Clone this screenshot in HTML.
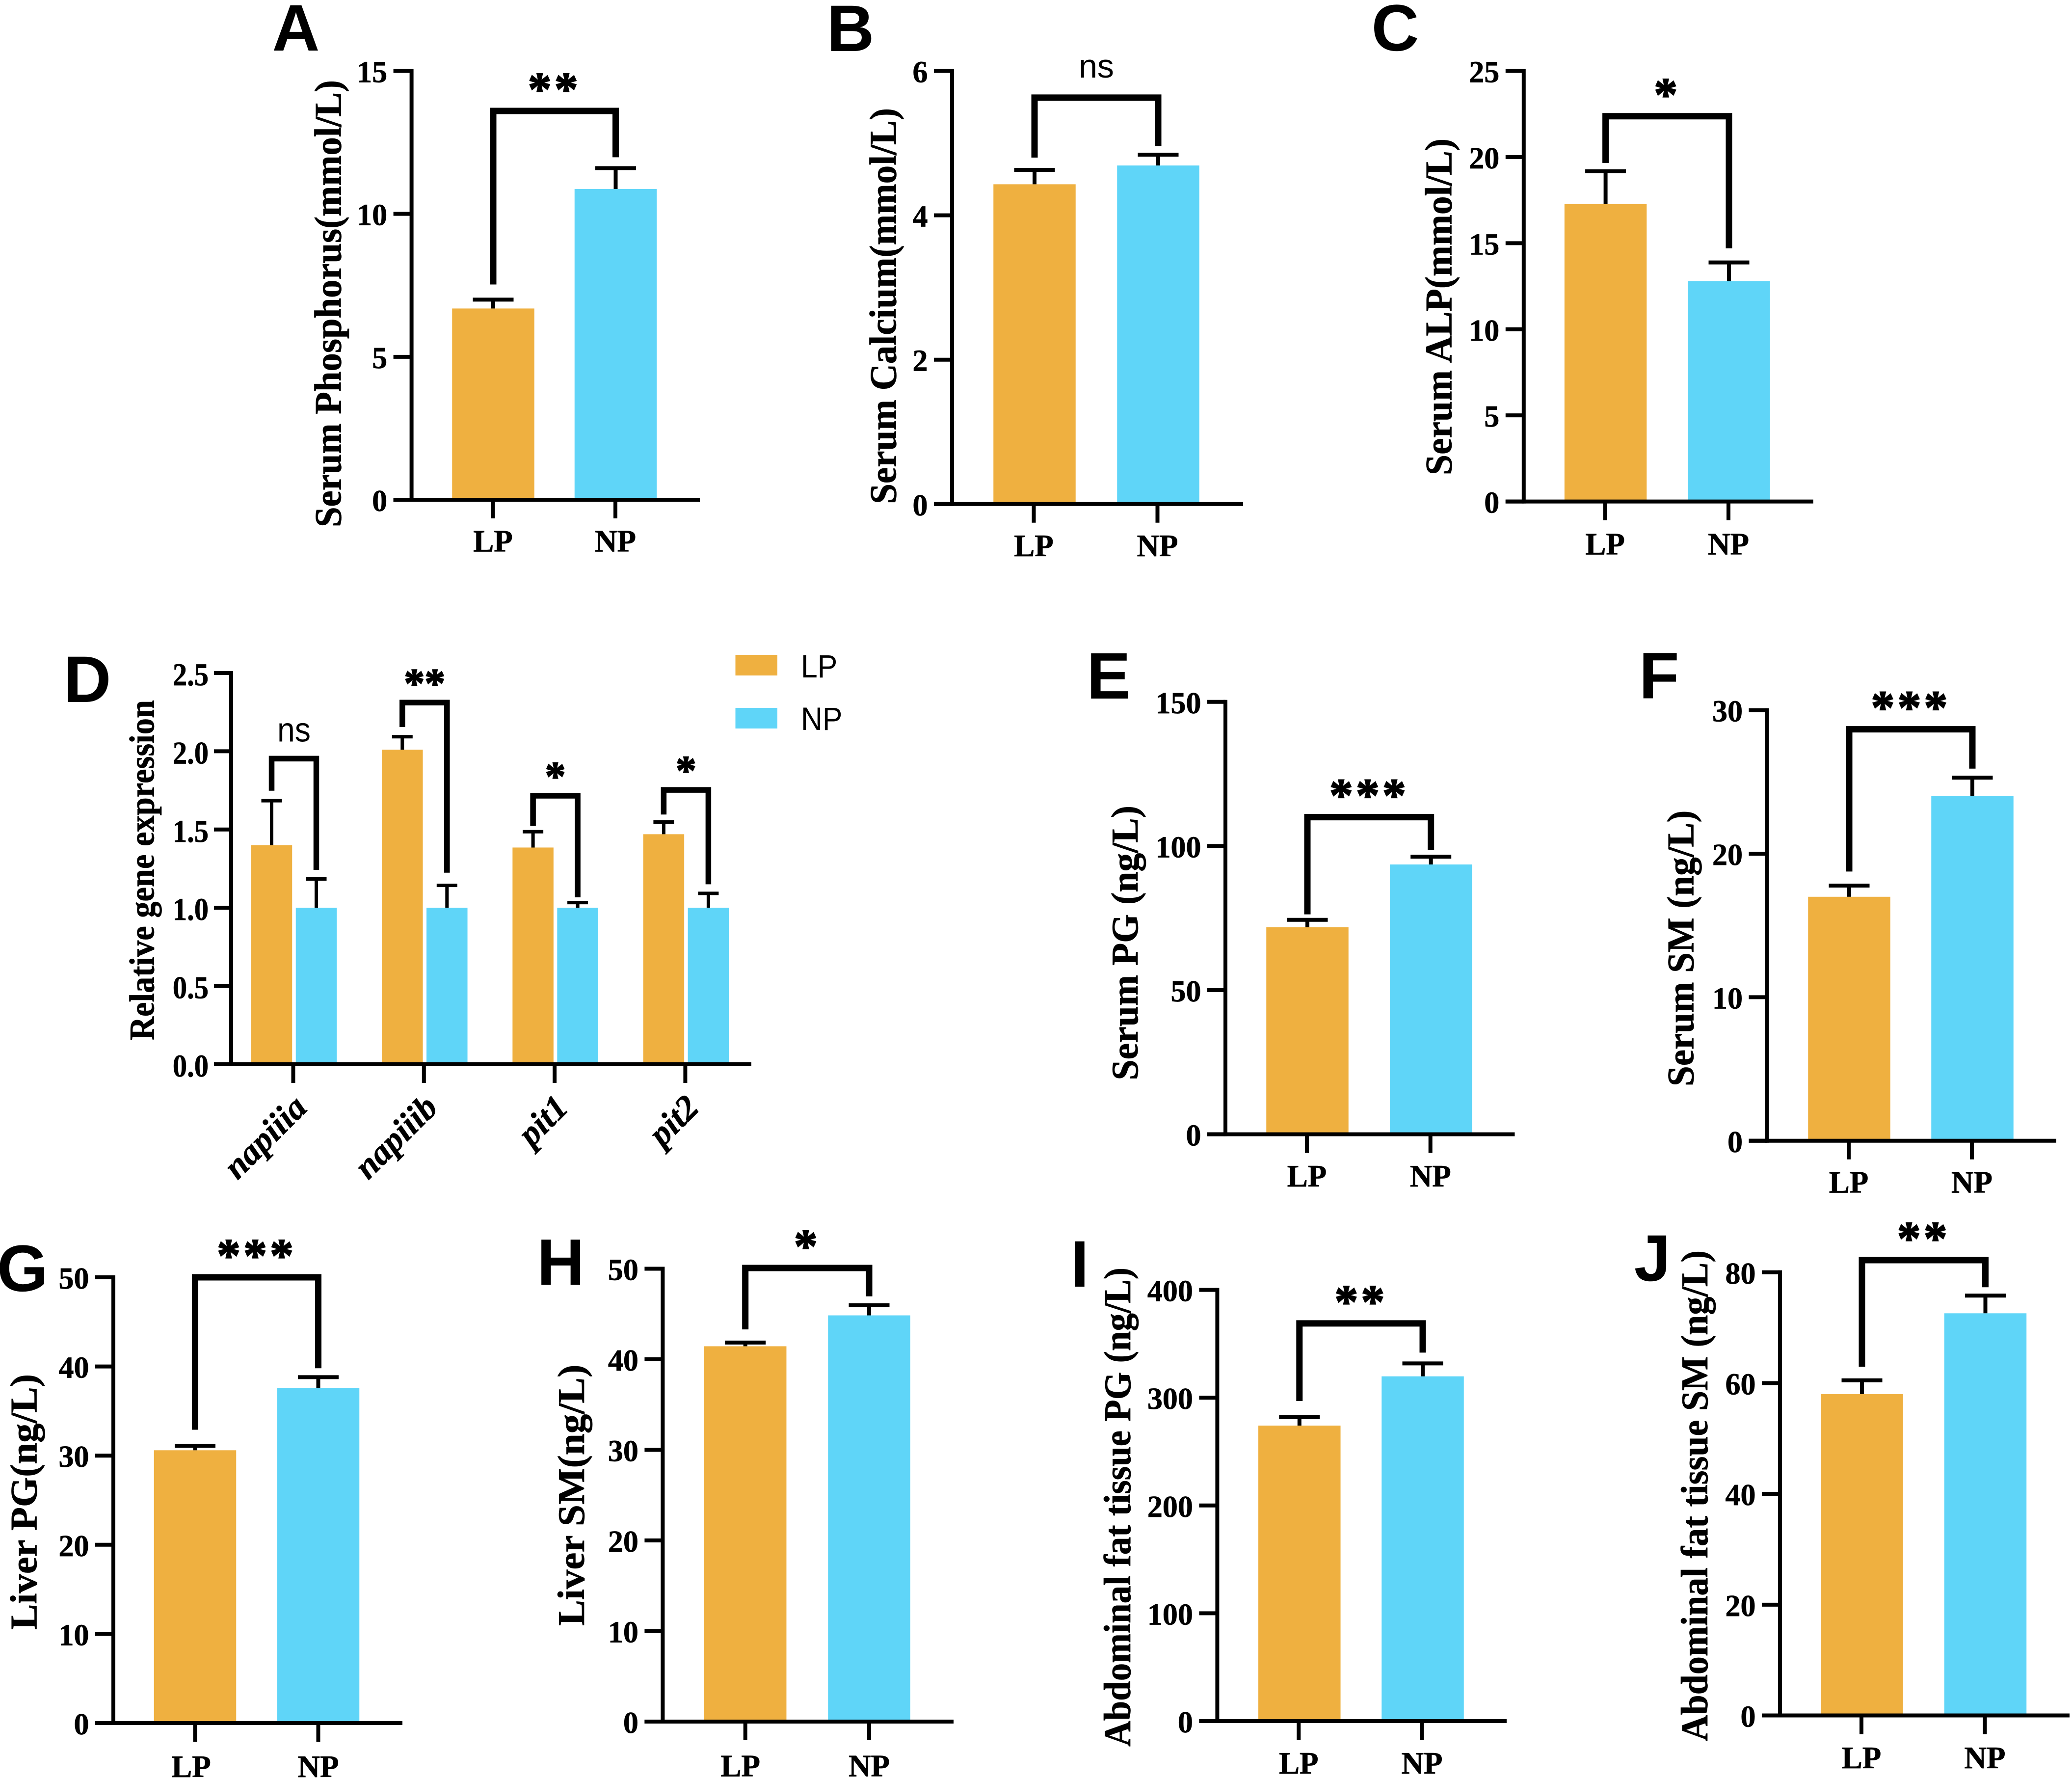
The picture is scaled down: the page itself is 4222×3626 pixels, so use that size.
<!DOCTYPE html>
<html>
<head>
<meta charset="utf-8">
<title>Serum and tissue measurements in LP and NP groups</title>
<style>
html,body{margin:0;padding:0;background:#fff}
svg{display:block}
text{fill:#000}
.serif{font-family:"Liberation Serif",serif;font-weight:bold;stroke:#000;stroke-width:0.7px}
.star{stroke-width:2.2px}
.sans{font-family:"Liberation Sans",sans-serif}
</style>
</head>
<body>
<svg id="figure" xmlns="http://www.w3.org/2000/svg" width="4222" height="3626" viewBox="0 0 4222 3626">
<rect width="4222" height="3626" fill="#ffffff"/>
</svg>
<script>
const panelLetters = ['A','B','C','D','E','F','G','H','I','J'];
const panelTitles = ['Serum Phosphorus(mmol/L)','Serum Calcium(mmol/L)','Serum ALP(mmol/L)','Relative gene expression','Serum PG (ng/L)','Serum SM (ng/L)','Liver PG(ng/L)','Liver SM(ng/L)','Abdominal fat tissue PG (ng/L)','Abdominal fat tissue SM (ng/L)'];
const panelTickLabels = [
  ['0','5','10','15'],
  ['0','2','4','6'],
  ['0','5','10','15','20','25'],
  ['0.0','0.5','1.0','1.5','2.0','2.5'],
  ['0','50','100','150'],
  ['0','10','20','30'],
  ['0','10','20','30','40','50'],
  ['0','10','20','30','40','50'],
  ['0','100','200','300','400'],
  ['0','20','40','60','80']
];
const groupNames = ['LP','NP'];
const panelCategories = [['LP'],['LP'],['LP'],['napiiia','napiiib','pit1','pit2'],['LP'],['LP'],['LP'],['LP'],['LP'],['LP']];
const lpValues = [[6.69],[4.43],[17.27],[1.40,2.01,1.385,1.47],[71.8],[17],[30.6],[41.44],[274.1],[58]];
const npValues = [[10.87],[4.69],[12.79],[1.0,1.0,1.0,1.0],[93.6],[24.03],[37.6],[44.85],[319.8],[72.6]];
const lpErrorTops = [[7.0],[4.63],[19.17],[1.684,2.093,1.486,1.548],[74.4],[17.78],[31.1],[41.85],[281.9],[60.5]];
const npErrorTops = [[11.6],[4.84],[13.88],[1.184,1.143,1.033,1.092],[96.3],[25.3],[38.8],[45.96],[331.8],[75.8]];
const bracketTops = [[13.6],[5.63],[22.37],[1.953,2.311,1.716,1.753],[110],[28.67],[50],[50.08],[368.9],[82.2]];
const bracketLeftFeet = [[7.53],[4.80],[19.66],[1.748,2.155,1.523,1.596],[76.3],[18.76],[32.9],[43.3],[296.9],[62.96]];
const bracketRightFeet = [[11.98],[4.96],[14.70],[1.242,1.224,1.067,1.150],[98.7],[25.93],[39.8],[46.95],[341.8],[77.3]];
const significance = [['**'],['ns'],['*'],['ns','**','*','*'],['***'],['***'],['***'],['*'],['**'],['**']];

/* Layout only (pixel geometry of each panel frame), not data */
const panelFrames = [
  {ax:838.6,base:1018,top:144.5,end:1426,c0:1005,step:249.5,lx:603,ly:103,tx:694.5,t0:1074,t1:163,ld:105.5,lp:0,td:-0.5},
  {ax:1940,base:1026.8,top:144.5,end:2533,c0:2108,step:252,lx:1733,ly:104,tx:1825.4,t0:1026.8,t1:220,ld:106,lp:0,td:-1.5},
  {ax:3104.8,base:1021.6,top:144.5,end:3694.8,c0:3271.6,step:251.4,lx:2843,ly:103,tx:2957.5,t0:968,t1:282,ld:108,lp:0,td:-1},
  {ax:471,base:2168,top:1371,end:1531,c0:599,step:266.3,lx:178,ly:1430,tx:313.6,t0:2119,t1:1426,ld:0,lp:0,td:-1.5,multi:true},
  {ax:2497,base:2310.6,top:1429.8,end:3086.5,c0:2664,step:251.7,lx:2259,ly:1423,tx:2318,t0:2200.6,t1:1641,ld:106.5,lp:0,td:-1},
  {ax:3600.5,base:2323.8,top:1446.7,end:4190,c0:3768,step:251,lx:3380.6,ly:1422.5,tx:3450.6,t0:2213,t1:1650.6,ld:105.7,lp:0,td:-1},
  {ax:231,base:3510,top:2602,end:820,c0:397.5,step:251,lx:46,ly:2630,tx:74.6,t0:3320,t1:2799,ld:110,lp:-8,td:0},
  {ax:1350.4,base:3507,top:2584.5,end:1943,c0:1518.7,step:252.3,lx:1142.6,ly:2617.4,tx:1190,t0:3311.8,t1:2779.7,ld:111.7,lp:-10,td:0},
  {ax:2480.4,base:3506,top:2627.6,end:3070,c0:2647.8,step:251.2,lx:2200,ly:2621,tx:2303,t0:3558,t1:2582,ld:107,lp:0,td:-1.5},
  {ax:3627,base:3494.5,top:2591.8,end:4217,c0:3794,step:251.5,lx:3367,ly:2609,tx:3479,t0:3547,t1:2547,ld:107.5,lp:0,td:-1}
];

const NS = 'http://www.w3.org/2000/svg';
const svg = document.getElementById('figure');
const LP_COLOR = '#efb040';
const NP_COLOR = '#5fd5f8';

function mk(parent, tag, attrs, txt) {
  const el = document.createElementNS(NS, tag);
  for (const k in attrs) el.setAttribute(k, attrs[k]);
  if (txt !== undefined) el.textContent = txt;
  parent.appendChild(el);
  return el;
}
function line(parent, x1, y1, x2, y2, w) {
  return mk(parent, 'line', {x1: x1, y1: y1, x2: x2, y2: y2, stroke: '#000', 'stroke-width': w});
}

panelFrames.forEach(function (f, p) {
  const slug = panelLetters[p].toLowerCase();
  const ticks = panelTickLabels[p];
  const maxV = Number(ticks[ticks.length - 1]);
  const yScale = function (v) { return f.base - (v / maxV) * (f.base - f.top); };
  const xScale = function (i) { return f.c0 + i * f.step; };
  const multi = !!f.multi;
  const barW = multi ? 83.5 : 167.5;
  const groupOff = multi ? 45.5 : f.step / 2;
  const capW = multi ? 42 : 83;
  const errW = multi ? 7 : 8;
  const bracketW = multi ? 11.5 : 13;
  const tickLen = multi ? 35 : 37;

  const g = mk(svg, 'g', {});
  
  

  const letter = mk(g, 'text', {x: f.lx, y: f.ly, 'text-anchor': 'middle', class: 'sans', 'font-size': 134, 'font-weight': 'bold'}, panelLetters[p]);
  
  

  const title = mk(g, 'text', {x: f.tx, y: f.t0, transform: 'rotate(-90 ' + f.tx + ' ' + f.t0 + ')', class: 'serif', 'font-size': multi ? 72 : 77, textLength: f.t0 - f.t1, lengthAdjust: 'spacingAndGlyphs'}, panelTitles[p]);
  
  

  panelCategories[p].forEach(function (cat, i) {
    const cx = xScale(i);
    const lpX = multi ? cx - groupOff : cx;
    const npX = multi ? cx + groupOff : cx + f.step;

    [[lpX, lpValues[p][i], lpErrorTops[p][i], LP_COLOR, 'lp'],
     [npX, npValues[p][i], npErrorTops[p][i], NP_COLOR, 'np']].forEach(function (b) {
      const bar = mk(g, 'rect', {x: b[0] - barW / 2, y: yScale(b[1]), width: barW, height: f.base - yScale(b[1]), fill: b[3]});
      
      
      const stem = line(g, b[0], yScale(b[1]), b[0], yScale(b[2]), errW);
      
      
      const cap = line(g, b[0] - capW / 2, yScale(b[2]), b[0] + capW / 2, yScale(b[2]), errW);
      
      
    });

    const pts = [lpX, yScale(bracketLeftFeet[p][i]), lpX, yScale(bracketTops[p][i]), npX, yScale(bracketTops[p][i]), npX, yScale(bracketRightFeet[p][i])].join(' ');
    const bracket = mk(g, 'polyline', {points: pts, fill: 'none', stroke: '#000', 'stroke-width': bracketW, 'stroke-linejoin': 'miter'});
    
    

    const sig = significance[p][i];
    const midX = (lpX + npX) / 2;
    const bt = yScale(bracketTops[p][i]);
    let sigEl;
    if (sig === 'ns') {
      const sx = multi ? 0.92 : 1;
      sigEl = mk(g, 'text', {transform: 'translate(' + midX + ' ' + (bt - (multi ? 35 : 41)) + ') scale(' + sx + ' 1)', 'text-anchor': 'middle', class: 'sans', 'font-size': multi ? 70 : 68}, sig);
    } else {
      sigEl = mk(g, 'text', {x: midX, y: bt - 12, 'text-anchor': 'middle', class: 'serif star', 'font-size': multi ? 84 : 96, 'letter-spacing': multi ? 0 : 6}, sig);
    }
    
    

    if (multi) {
      const xt = line(g, cx + f.td, f.base, cx + f.td, f.base + 38, 8);
      
      
      const ax = cx + 30;
      const ay = f.base + 92;
      const lab = mk(g, 'text', {x: ax, y: ay, transform: 'rotate(-45 ' + ax + ' ' + ay + ')', 'text-anchor': 'end', class: 'serif', 'font-size': 71, 'font-style': 'italic'}, cat);
      
      
    } else {
      groupNames.forEach(function (name, k) {
        const tx = cx + k * f.step + f.td;
        const xt = line(g, tx, f.base, tx, f.base + 38, 8);
        
        
        const lab = mk(g, 'text', {x: tx + (k === 0 ? f.lp : 0), y: f.base + f.ld, 'text-anchor': 'middle', class: 'serif', 'font-size': 63}, name);
        
        
      });
    }
  });

  const yAxis = line(g, f.ax, f.top - 4, f.ax, f.base + 4, 8);
  
  
  const xAxis = line(g, f.ax - tickLen, f.base, f.end, f.base, 8);
  
  

  ticks.forEach(function (t) {
    const y = yScale(Number(t));
    const tk = line(g, f.ax - tickLen, y, f.ax, y, 8);
    
    
    const rightX = multi ? f.ax - 46 : f.ax - 49.5;
    const lbl = mk(g, 'text', {transform: 'translate(' + rightX + ' ' + (y + (multi ? 25 : 23)) + ') scale(' + (multi ? 0.9 : 1) + ' 1)', 'text-anchor': 'end', class: 'serif', 'font-size': multi ? 65 : 62}, t);
    
    
  });
});

/* Legend for panel D */
const legend = mk(svg, 'g', {});


[[1334, 1380, LP_COLOR], [1442, 1487, NP_COLOR]].forEach(function (row, i) {
  const sw = mk(legend, 'rect', {x: 1498.5, y: row[0], width: 85.5, height: 42, fill: row[2]});
  
  
  const tx = mk(legend, 'text', {transform: 'translate(1632 ' + row[1] + ') scale(0.92 1)', class: 'sans', 'font-size': 66}, groupNames[i]);
  
  
});
</script>
</body>
</html>
